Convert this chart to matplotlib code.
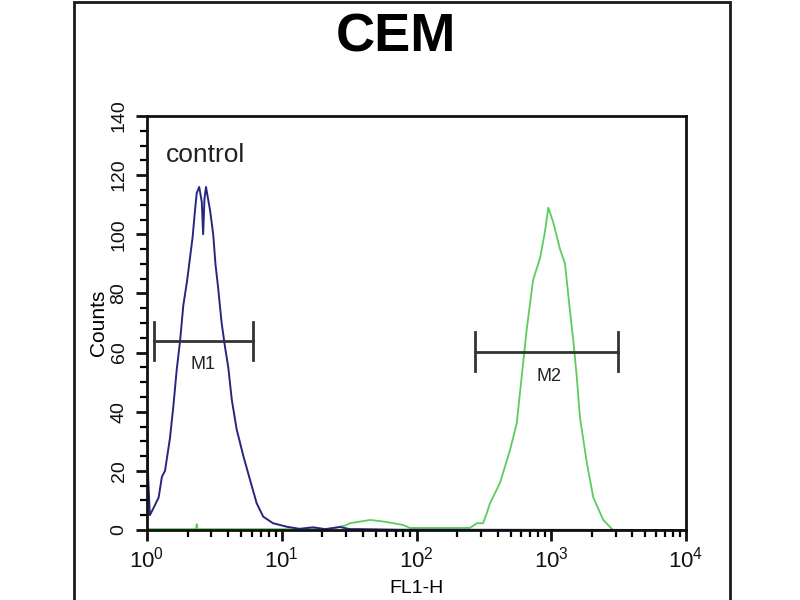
import matplotlib
matplotlib.use("Agg")
import matplotlib.pyplot as plt
from matplotlib.patches import Rectangle
from matplotlib.ticker import MultipleLocator, LogLocator, NullFormatter

plt.rcParams['font.family'] = ['Liberation Sans', 'DejaVu Sans']

# control (blue) histogram: FL1-H value, counts
control_x = [1.0, 1.005, 1.02, 1.05, 1.12, 1.22, 1.29, 1.36, 1.48, 1.57, 1.66, 1.76, 1.86,
             1.98, 2.18, 2.27, 2.34, 2.44, 2.55, 2.61, 2.67, 2.74, 2.94, 3.10, 3.22,
             3.37, 3.58, 3.79, 4.01, 4.26, 4.63, 5.19, 5.81, 6.52, 7.29, 8.61, 10.9,
             13.5, 17.1, 21.0, 27.0, 32.0, 38.1, 75.5, 10000]
control_y = [0, 33, 18, 5, 7.5, 11, 18, 20, 31, 42, 54, 64, 76,
             84, 99, 108, 114, 116, 111, 100, 112, 116, 108, 100, 90,
             82, 70, 62, 55, 44, 34, 25, 17, 9, 4.5, 2.3, 1.1,
             0.4, 0.9, 0.3, 1.0, 0.3, 0.3, 0.1, 0]

# sample (green) histogram
sample_x = [1.0, 2.31, 2.34, 2.37, 22.8, 29.5, 32.1, 45.2, 58.4, 79.4, 89.5, 249,
            281, 312, 334, 351, 417, 494, 554, 604, 658, 733, 826, 899, 951,
            1035, 1161, 1265, 1377, 1458, 1545, 1634, 1832, 2051, 2433, 2872, 10000]
sample_y = [0.3, 0.3, 2, 0.3, 0.3, 1.5, 2.3, 3.4, 2.8, 1.7, 0.7, 0.7,
            2.3, 2.3, 6, 9, 16, 27, 36, 52, 68, 84.5, 92, 101, 109,
            104, 95, 90, 74, 64, 52, 38, 23, 11, 3.4, 0, 0]

# markers: name, start, end, level, label position
marker_names = ['M1', 'M2']
marker_start = [1.13, 272]
marker_end = [6.1, 3128]
marker_level = [64, 60.3]
marker_label_x = [2.6, 955]
marker_label_y = [56, 52]

fig = plt.figure(figsize=(8, 6), dpi=100)
fig.patches.append(Rectangle((74 / 800, -0.01), (730 - 74) / 800, 1.007,
                             transform=fig.transFigure, fill=False,
                             edgecolor='#1a1a1a', linewidth=2))
ax = fig.add_axes([147 / 800, 1 - 530 / 600, (686 - 147) / 800, (530 - 116) / 600])

ax.plot(sample_x, sample_y, color='#5ccc5c', linewidth=1.3)
ax.plot(control_x, control_y, color='#26267e', linewidth=1.4)

for name, s, e, lvl, lx, ly in zip(marker_names, marker_start, marker_end,
                                    marker_level, marker_label_x, marker_label_y):
    ax.plot([s, e], [lvl, lvl], color='#333333', linewidth=2)
    ax.plot([s, s], [lvl - 6.5, lvl + 6.5], color='#333333', linewidth=2)
    ax.plot([e, e], [lvl - 6.5, lvl + 6.5], color='#333333', linewidth=2)
    ax.text(lx, ly, name, ha='center', va='center', fontsize=13, color='#222222')

ax.set_xscale('log')
ax.set_xlim(1, 10000)
ax.set_ylim(0, 140)
ax.yaxis.set_major_locator(MultipleLocator(20))
ax.yaxis.set_minor_locator(MultipleLocator(5))
ax.xaxis.set_major_locator(LogLocator(base=10))
ax.xaxis.set_minor_locator(LogLocator(base=10, subs=range(2, 10)))
ax.xaxis.set_minor_formatter(NullFormatter())

for sp in ax.spines.values():
    sp.set_linewidth(2)
    sp.set_color('#111111')

ax.tick_params(axis='both', which='major', direction='out', length=8, width=2,
               colors='#111111')
ax.tick_params(axis='both', which='minor', direction='out', length=5, width=1.6)
ax.tick_params(axis='x', labelsize=16, pad=4)
ax.tick_params(axis='y', labelsize=14, pad=6)
for lab in ax.get_yticklabels():
    lab.set_rotation(90)
    lab.set_va('center')

ax.set_xlabel('FL1-H', fontsize=14, labelpad=5)
ax.set_ylabel('Counts', fontsize=15, labelpad=2)

ax.text(0.035, 0.905, 'control', transform=ax.transAxes, fontsize=19,
        color='#222222', ha='left', va='center')

fig.text(396 / 800, 1 - 52 / 600, 'CEM', ha='center', va='baseline',
         fontsize=39, fontweight='bold', color='#000000')

fig.savefig('out.png', dpi=100)
